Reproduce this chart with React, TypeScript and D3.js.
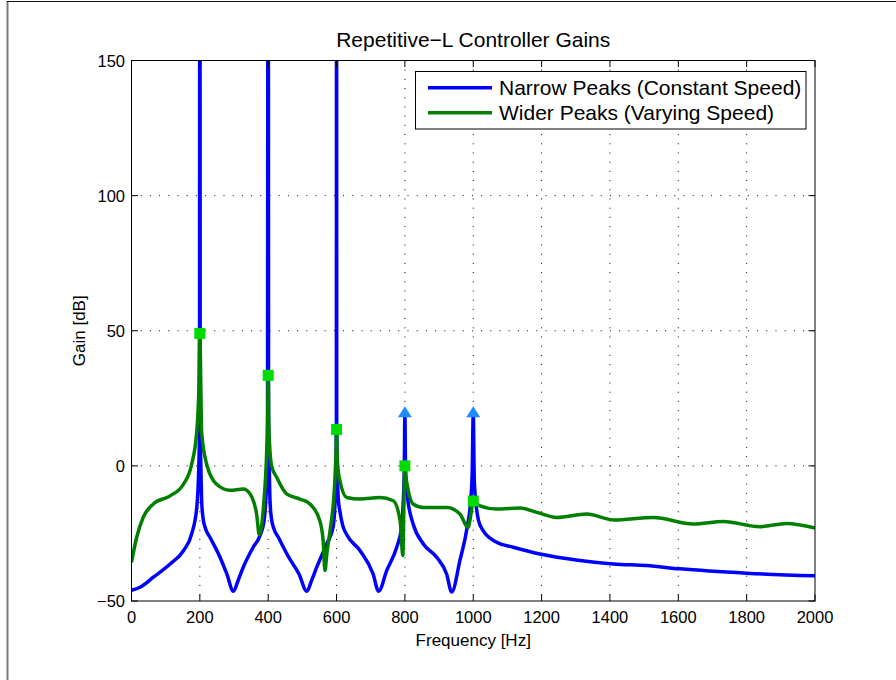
import React from "react";
import * as d3 from "d3";

// ---- data ----
const xTicks = [0, 200, 400, 600, 800, 1000, 1200, 1400, 1600, 1800, 2000];
const yTicks = [-50, 0, 50, 100, 150];

const narrowFreq = [0, 25, 64, 113, 152, 176, 191, 197, 199, 200, 201, 203, 205, 209, 216, 230, 259, 279, 298, 312, 327, 356, 376, 388, 394, 398, 400, 401, 403, 405, 409, 416, 430, 460, 490, 513, 527, 542, 571, 590, 596, 598.5, 599.5, 600, 600.5, 602, 605, 610, 618, 630, 669, 707, 723, 747, 776, 790, 795, 798, 800, 802, 806, 810, 824, 854, 893, 922, 937, 961, 982, 993, 997, 1000, 1003, 1008, 1015, 1029, 1069, 1117, 1195, 1312, 1410, 1507, 1605, 1800, 2000];
const narrowGain = [-46, -44.9, -41.2, -36.3, -31.4, -25.2, -15.4, 0, 15, 400, 15, 0, -12, -19, -23, -26.5, -33.8, -40, -46.4, -42.4, -37.5, -30.1, -25.8, -20.3, -10.4, 3, 400, 15, 0, -12, -19, -23, -26.5, -33.8, -40, -46.4, -42.4, -37.5, -28.9, -22.6, -12, 0, 15, 400, 15, 0, -12, -17, -22, -25.5, -31.4, -40, -46.4, -38.7, -30.1, -23, -14, -3, 20, -3, -10, -14, -21.5, -28.9, -33.8, -40, -46.7, -35, -22.8, -12, -2, 20, -5, -14, -20, -24, -28.3, -30.1, -32.6, -35, -36.3, -36.9, -38.1, -39.7, -40.7];

const widerFreq = [0, 15, 34, 64, 113, 152, 176, 191, 197, 200, 203, 205, 220, 249, 288, 327, 347, 366, 374, 386, 396, 398.5, 400, 401.5, 404, 410, 425, 454, 493, 522, 551, 561, 566, 572, 581, 595, 598.5, 600, 601.5, 605, 610, 630, 669, 727, 766, 786, 794, 797, 800, 803, 810, 824, 854, 922, 961, 985, 993, 1000, 1008, 1020, 1069, 1137, 1186, 1244, 1332, 1410, 1527, 1644, 1732, 1839, 1917, 2000];
const widerGain = [-35.7, -26.5, -19.1, -14.1, -11.1, -6.8, 0.6, 12.9, 28, 49, 28, 12.9, 0.6, -6.8, -9, -8.6, -10.4, -17.8, -25.5, -15.4, 6.8, 18, 34, 18, 8, 0, -4.3, -10.4, -12.3, -14.1, -20.3, -28, -38.7, -32, -24, -5.5, 5, 13.5, 5, -2, -5.5, -11.7, -12.3, -11.7, -12.9, -20.3, -33.2, -15, 0, -4, -9.2, -14.1, -15.4, -15.4, -17.8, -22.8, -18, -13, -13.8, -14.8, -16, -15.6, -17.2, -19.1, -17.8, -20, -19.1, -21.5, -20.6, -22.5, -21.3, -23];

const squareFreq = [200, 400, 600, 800, 1000];
const squareGain = [49, 33.5, 13.5, 0, -13];
const arrowFreq = [800, 1000];
const arrowGain = [20, 20];

const legendLabels = ["Narrow Peaks (Constant Speed)", "Wider Peaks (Varying Speed)"];
const titleText = "Repetitive\u2212L Controller Gains";
const xLabel = "Frequency [Hz]";
const yLabel = "Gain [dB]";

const FONT = "'Liberation Sans', Arial, Helvetica, sans-serif";
const W = 896;
const H = 680;
const L = 131.5, R = 815, T = 60.5, B = 601;

export default function App() {
  const x = d3.scaleLinear().domain([0, 2000]).range([L, R]);
  const y = d3.scaleLinear().domain([-50, 150]).range([B, T]);
  const line = d3
    .line<[number, number]>()
    .x((d) => x(d[0]))
    .y((d) => y(d[1]))
    .curve(d3.curveMonotoneX);
  const blue = line(narrowFreq.map((f, i) => [f, narrowGain[i]] as [number, number])) || "";
  const green = line(widerFreq.map((f, i) => [f, widerGain[i]] as [number, number])) || "";
  const tick = 6.5;
  const fmt = (v: number) => (v < 0 ? "\u2212" + Math.abs(v) : String(v));

  return (
    <svg width={W} height={H} style={{ position: "absolute", left: 0, top: 0, background: "#fff" }} fontFamily={FONT}>
      <rect x={0} y={0} width={W} height={H} fill="#fff" />
      <line x1={7.5} y1={1} x2={7.5} y2={H} stroke="#7a7a7a" strokeWidth={2} />
      <line x1={7} y1={1.5} x2={W} y2={1.5} stroke="#111" strokeWidth={1.2} />
      <defs>
        <clipPath id="plotclip">
          <rect x={L} y={T} width={R - L} height={B - T} />
        </clipPath>
      </defs>
      {/* grid */}
      {xTicks.slice(1, -1).map((t) => (
        <line key={"gx" + t} x1={x(t)} x2={x(t)} y1={T} y2={B} stroke="#000" strokeWidth={1} strokeDasharray="1,8.2" />
      ))}
      {yTicks.slice(1, -1).map((t) => (
        <line key={"gy" + t} x1={L} x2={R} y1={y(t)} y2={y(t)} stroke="#000" strokeWidth={1} strokeDasharray="1,8.2" />
      ))}
      {/* lines */}
      <g clipPath="url(#plotclip)">
        <path d={blue} fill="none" stroke="#0000ff" strokeWidth={3.5} strokeLinejoin="round" />
        <path d={green} fill="none" stroke="#007f00" strokeWidth={3.5} strokeLinejoin="round" />
      </g>
      {/* markers */}
      {arrowFreq.map((f, i) => {
        const cx = x(f), cy = y(arrowGain[i]);
        return <path key={"a" + f} d={`M${cx - 7},${cy + 5.5} L${cx + 7},${cy + 5.5} L${cx},${cy - 5.5} Z`} fill="#1e8cff" />;
      })}
      {squareFreq.map((f, i) => (
        <rect key={"s" + f} x={x(f) - 5.5} y={y(squareGain[i]) - 5.5} width={11} height={11} fill="#00dc00" />
      ))}
      {/* axes box */}
      <rect x={L} y={T} width={R - L} height={B - T} fill="none" stroke="#000" strokeWidth={1} />
      {xTicks.map((t) => (
        <g key={"tx" + t}>
          <line x1={x(t)} x2={x(t)} y1={B} y2={B - tick} stroke="#000" />
          <line x1={x(t)} x2={x(t)} y1={T} y2={T + tick} stroke="#000" />
          <text x={x(t)} y={B + 21.5} textAnchor="middle" fontSize={16.5} fill="#000">{t}</text>
        </g>
      ))}
      {yTicks.map((t) => (
        <g key={"ty" + t}>
          <line x1={L} x2={L + tick} y1={y(t)} y2={y(t)} stroke="#000" />
          <line x1={R} x2={R - tick} y1={y(t)} y2={y(t)} stroke="#000" />
          <text x={125} y={y(t) + 6} textAnchor="end" fontSize={16.5} fill="#000">{fmt(t)}</text>
        </g>
      ))}
      {/* labels */}
      <text x={(L + R) / 2} y={47} textAnchor="middle" fontSize={21} fill="#000">{titleText}</text>
      <text x={(L + R) / 2} y={645.5} textAnchor="middle" fontSize={17} fill="#000">{xLabel}</text>
      <text transform={`translate(85,${(T + B) / 2}) rotate(-90)`} textAnchor="middle" fontSize={17} fill="#000">{yLabel}</text>
      {/* legend */}
      <rect x={415.5} y={71.5} width={390.5} height={57.5} fill="#fff" stroke="#000" strokeWidth={1} />
      {legendLabels.map((lab, i) => (
        <g key={lab}>
          <line x1={428} x2={492} y1={87.7 + i * 25} y2={87.7 + i * 25} stroke={i === 0 ? "#0000ff" : "#007f00"} strokeWidth={3.5} />
          <text x={499} y={95 + i * 25} fontSize={21} fill="#000">{lab}</text>
        </g>
      ))}
    </svg>
  );
}
